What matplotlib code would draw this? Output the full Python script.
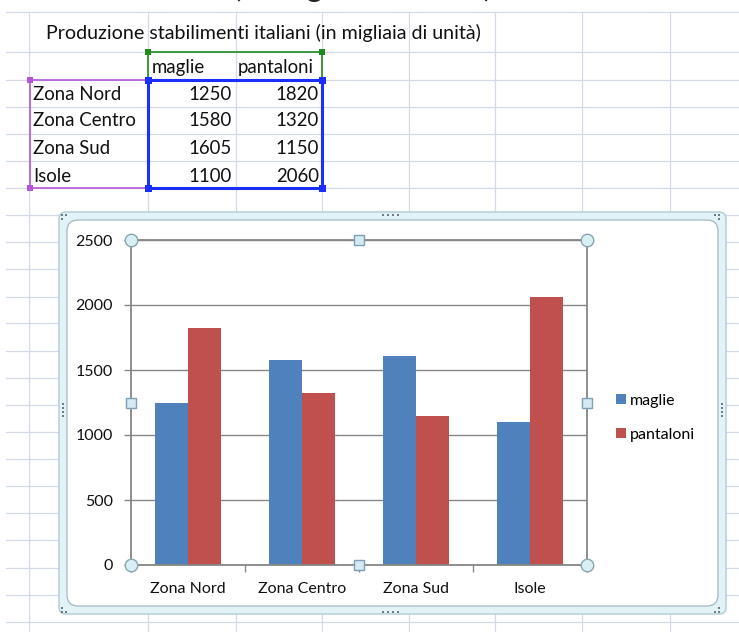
import matplotlib
matplotlib.use('Agg')
import matplotlib.pyplot as plt
import numpy as np
from matplotlib.transforms import Affine2D
from matplotlib.patches import Rectangle, FancyBboxPatch
from matplotlib.lines import Line2D

# ---------------- data ----------------
categories = ['Zona Nord', 'Zona Centro', 'Zona Sud', 'Isole']
series_names = ['maglie', 'pantaloni']
maglie = [1250, 1580, 1605, 1100]
pantaloni = [1820, 1320, 1150, 2060]
yticks = [0, 500, 1000, 1500, 2000, 2500]
sheet_title = 'Produzione stabilimenti italiani (in migliaia di unità)'
top_cut_text = '(in migliaia di unità)'

# ---------------- figure ----------------
W, H = 739, 632
FONT = 'Lato'
plt.rcParams['font.family'] = [FONT, 'DejaVu Sans']
fig = plt.figure(figsize=(W / 100, H / 100), dpi=100)
fig.patch.set_facecolor('white')
PX = Affine2D().scale(1 / W, -1 / H).translate(0, 1) + fig.transFigure   # y-down pixels
PXU = Affine2D().scale(1 / W, 1 / H) + fig.transFigure                   # y-up pixels
renderer = fig.canvas.get_renderer()


def fitted_size(s, target_w):
    t = fig.text(0, 0, s, fontsize=10)
    w = t.get_window_extent(renderer).width
    t.remove()
    return 10 * target_w / w


fs_title = fitted_size(sheet_title, 434)
fs_table = fitted_size(categories[1], 103)
fs_chart = fitted_size(categories[1], 89)
fs_top = fitted_size(top_cut_text, 260)

# ---------------- spreadsheet grid ----------------
GRID = '#d3d9e6'
col_x = [29, 148, 236, 322, 409, 495, 582, 670]
row_y = [12, 52, 80, 107, 134, 161, 188, 215, 242, 269, 297, 323, 351, 378,
         405, 432, 459, 486, 513, 540, 568, 595, 622]
for x in col_x:
    fig.add_artist(Line2D([x, x], [12, H], transform=PX, color=GRID, lw=0.9, zorder=-5))
for y in row_y:
    fig.add_artist(Line2D([6, W], [y, y], transform=PX, color=GRID, lw=0.9, zorder=-5))

# cut-off text at the very top (only its lower part is visible)
fig.text(233, -3, top_cut_text, transform=PX, fontsize=fs_top, ha='left', va='baseline', color='#222222')

# ---------------- table ----------------
TXT = '#111111'
fig.text(46, 33, sheet_title, transform=PX, fontsize=fs_title, va='center', ha='left', color=TXT)
fig.text(152, 67, series_names[0], transform=PX, fontsize=fs_table, va='center', ha='left', color=TXT)
fig.text(238, 67, series_names[1], transform=PX, fontsize=fs_table, va='center', ha='left', color=TXT)
row_centers = [94, 121, 149, 176]
for yc, cat, a, b in zip(row_centers, categories, maglie, pantaloni):
    fig.text(33, yc, cat, transform=PX, fontsize=fs_table, va='center', ha='left', color=TXT)
    fig.text(232, yc, str(a), transform=PX, fontsize=fs_table, va='center', ha='right', color=TXT)
    fig.text(319, yc, str(b), transform=PX, fontsize=fs_table, va='center', ha='right', color=TXT)


def sel_box(x0, y0, x1, y1, color, lw, hs):
    fig.add_artist(Rectangle((x0, H - y1), x1 - x0, y1 - y0, transform=PXU, fill=False,
                             edgecolor=color, lw=lw, zorder=4))
    for (x, y) in [(x0, y0), (x1, y0), (x0, y1), (x1, y1)]:
        fig.add_artist(Rectangle((x - hs / 2, H - y - hs / 2), hs, hs, transform=PXU,
                                 facecolor=color, edgecolor=color, lw=0, zorder=5))


sel_box(148, 52, 322, 80, '#1e8a1e', 1.2, 6)
sel_box(30, 80, 148, 188, '#b455d8', 1.2, 6)
sel_box(148, 80, 322, 188, '#1a2fff', 2.2, 7)

# ---------------- chart frame ----------------
fig.add_artist(FancyBboxPatch((59, H - 614), 667, 402, boxstyle='round,pad=0,rounding_size=7',
                              transform=PXU, facecolor='#e2f3f8', edgecolor='#b0cbd3', lw=1.0, zorder=-2))
fig.add_artist(FancyBboxPatch((67, H - 606), 651, 386, boxstyle='round,pad=0,rounding_size=11',
                              transform=PXU, facecolor='white', edgecolor='#a6b8be', lw=0.9, zorder=-1))

DOT = '#6f7c82'


def dot(x, y):
    fig.add_artist(Rectangle((x - 1, H - y - 1), 2.2, 2.2, transform=PXU, facecolor=DOT, lw=0, zorder=3))


for x in [383, 388, 393, 398]:
    dot(x, 215)
    dot(x, 612)
for y in [404, 408, 412, 416]:
    dot(63, y)
    dot(722, y)
for (x, y) in [(62, 215), (66, 215), (62, 219), (719, 608), (719, 612), (715, 612),
               (62, 608), (62, 612), (66, 612), (719, 215), (715, 215), (719, 219)]:
    dot(x, y)

# ---------------- chart ----------------
AX_GRAY = '#868686'
ax = fig.add_axes([131 / W, (H - 565) / H, 456 / W, 325 / H])
ax.set_zorder(1)
ax.patch.set_facecolor('white')
x = np.arange(len(categories))
w = 1 / 3.5
b1 = ax.bar(x - w / 2, maglie, w, color='#4F81BD', label=series_names[0], zorder=2)
b2 = ax.bar(x + w / 2, pantaloni, w, color='#C0504D', label=series_names[1], zorder=2)
ax.set_xlim(-0.5, len(categories) - 0.5)
ax.set_ylim(yticks[0], yticks[-1])
ax.set_yticks(yticks)
ax.set_xticks(x)
ax.set_xticklabels(categories)
ax.set_xticks(np.arange(-0.5, len(categories), 1), minor=True)
ax.set_axisbelow(True)
ax.yaxis.grid(True, color=AX_GRAY, lw=1.0)
for s in ax.spines.values():
    s.set_color(AX_GRAY)
    s.set_linewidth(1.3)
ax.tick_params(axis='y', direction='out', length=5, width=1, color=AX_GRAY, pad=8,
               labelsize=fs_chart, labelcolor=TXT)
ax.tick_params(axis='x', which='major', length=0, pad=12, labelsize=fs_chart, labelcolor=TXT)
ax.tick_params(axis='x', which='minor', direction='out', length=5, width=1, color=AX_GRAY)

# selection handles on the plot area
for (hx, hy) in [(0, 0), (1, 0), (0, 1), (1, 1)]:
    ax.plot([hx], [hy], marker='o', ms=9, mfc='#d8eff5', mec='#8ba4ae', mew=1.0,
            transform=ax.transAxes, clip_on=False, zorder=6)
for (hx, hy) in [(0.5, 0), (0.5, 1), (0, 0.5), (1, 0.5)]:
    ax.plot([hx], [hy], marker='s', ms=7, mfc='#d6eaf4', mec='#7f9fb6', mew=1.0,
            transform=ax.transAxes, clip_on=False, zorder=6)

fig.legend([b1, b2], series_names, loc='center left', bbox_to_anchor=(616 / W, (H - 418) / H),
           bbox_transform=fig.transFigure, frameon=False, fontsize=fs_chart,
           handlelength=0.6, handleheight=0.6, handletextpad=0.25, labelspacing=1.25,
           borderpad=0, borderaxespad=0)

fig.savefig('out.png', dpi=100, facecolor='white')
